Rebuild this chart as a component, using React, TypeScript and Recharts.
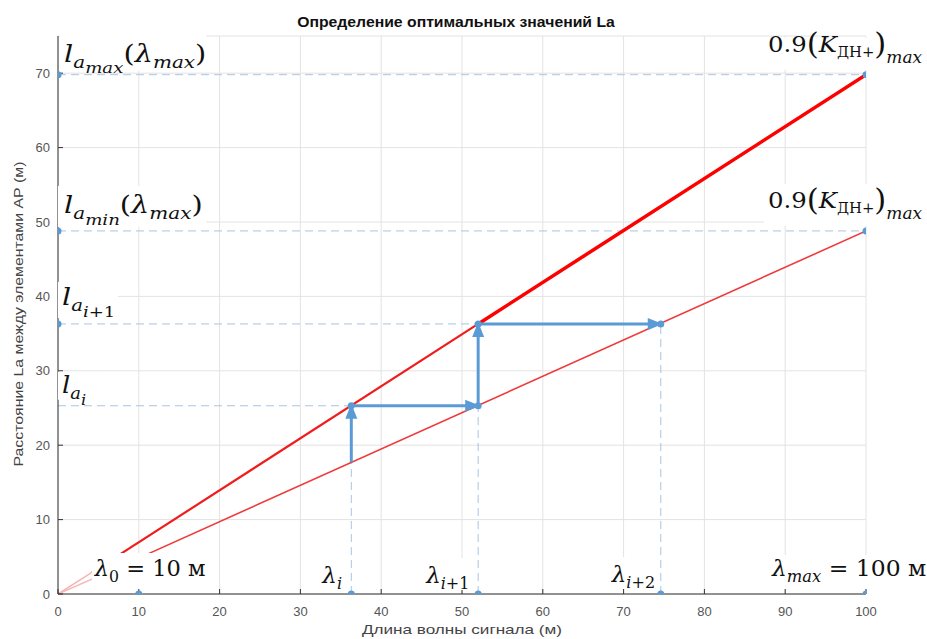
import React from 'react'
import {
  ComposedChart,
  Line,
  Scatter,
  XAxis,
  YAxis,
  CartesianGrid,
  ReferenceDot,
} from 'recharts'

// значения
const xTicks = [0, 10, 20, 30, 40, 50, 60, 70, 80, 90, 100]
const yTicks = [0, 10, 20, 30, 40, 50, 60, 70]

const lambda0 = 10
const lambdaMax = 100
const lambdaSteps = [36.3, 52, 74.6] // λi, λi+1, λi+2
const laMax = 69.8 // la_max(λmax)
const laMin = 48.8 // la_min(λmax)
const laSteps = [25.3, 36.3] // la_i, la_i+1
const laLowAtLambdaI = 17.7 // нижняя прямая при λi

// верхняя прямая 0.9(Kдн+)max
const upperFaint = [{ x: 0, y: 0 }, { x: 4.2, y: 2.9 }]
const upperThin = [{ x: 4.2, y: 2.9 }, { x: 52, y: 36.3 }]
const upperThick = [{ x: 52, y: 36.3 }, { x: 100, y: 69.8 }]
// нижняя прямая
const lowerFaint = [{ x: 0, y: 0 }, { x: 4.2, y: 2.0 }]
const lowerLine = [{ x: 4.2, y: 2.0 }, { x: 100, y: 48.8 }]

// ступенчатые стрелки
const arrows = [
  [{ x: lambdaSteps[0], y: laLowAtLambdaI }, { x: lambdaSteps[0], y: laSteps[0], head: 'up' }],
  [{ x: lambdaSteps[0], y: laSteps[0] }, { x: lambdaSteps[1], y: laSteps[0], head: 'right' }],
  [{ x: lambdaSteps[1], y: laSteps[0] }, { x: lambdaSteps[1], y: laSteps[1], head: 'up' }],
  [{ x: lambdaSteps[1], y: laSteps[1] }, { x: lambdaSteps[2], y: laSteps[1], head: 'right' }],
]

// пунктирные выноски
const guides = [
  [{ x: 0, y: laMax }, { x: lambdaMax, y: laMax }],
  [{ x: 0, y: laMin }, { x: lambdaMax, y: laMin }],
  [{ x: 0, y: laSteps[1] }, { x: lambdaSteps[1], y: laSteps[1] }],
  [{ x: 0, y: laSteps[0] }, { x: lambdaSteps[0], y: laSteps[0] }],
  [{ x: lambdaSteps[0], y: 0 }, { x: lambdaSteps[0], y: laLowAtLambdaI }],
  [{ x: lambdaSteps[1], y: 0 }, { x: lambdaSteps[1], y: laSteps[0] }],
  [{ x: lambdaSteps[2], y: 0 }, { x: lambdaSteps[2], y: laSteps[1] }],
]

const markers = [
  { x: 0, y: laMax }, { x: lambdaMax, y: laMax },
  { x: 0, y: laMin }, { x: lambdaMax, y: laMin },
  { x: 0, y: laSteps[1] }, { x: lambdaSteps[1], y: laSteps[1] }, { x: lambdaSteps[2], y: laSteps[1] },
  { x: lambdaSteps[0], y: laSteps[0] }, { x: lambdaSteps[1], y: laSteps[0] },
  { x: lambda0, y: 0 }, { x: lambdaSteps[0], y: 0 }, { x: lambdaSteps[1], y: 0 },
  { x: lambdaSteps[2], y: 0 }, { x: lambdaMax, y: 0 },
]

const SANS = '"Liberation Sans", Arial, Helvetica, sans-serif'
const SERIF = '"DejaVu Serif", "Liberation Serif", serif'
const BLUE = '#5b9bd5'
const GUIDE = '#a9c5e2'

type Part = { t: string; it?: boolean; size: number; off: number }
const m = (t: string, it = false): Part => ({ t, it, size: 23, off: 0 })
const s = (t: string, it = true): Part => ({ t, it, size: 16, off: 6 })
const s2 = (t: string, it = true): Part => ({ t, it, size: 14.5, off: 11 })
const kdn: Part[] = [
  m('0.9'),
  { t: '(', size: 29, off: 2 },
  m('K', true),
  { t: 'ДН+', size: 14, off: 5 },
  { t: ')', size: 29, off: 2 },
  { t: 'max', it: true, size: 16, off: 11 },
]

type MathLabel = {
  at: { x: number; y: number }
  dx: number
  dy: number
  sx: number
  k?: number
  bg?: [number, number, number, number]
  parts: Part[]
}

const mathLabels: MathLabel[] = [
  { at: { x: 0, y: laMax }, dx: 6, dy: -13, sx: 1.17, k: 1.07, bg: [-4, -28, 142, 9],
    parts: [m('l', true), s('a'), s2('max'), m('('), m('λ', true), s('max'), m(')')] },
  { at: { x: lambdaMax, y: laMax }, dx: -98, dy: -23, sx: 1.06, bg: [-4, -14, 159, 18], parts: kdn },
  { at: { x: 0, y: laMin }, dx: 6, dy: -18, sx: 1.17, k: 1.07, bg: [-6, -27, 142, 14],
    parts: [m('l', true), s('a'), s2('min'), m('('), m('λ', true), s('max'), m(')')] },
  { at: { x: lambdaMax, y: laMin }, dx: -98, dy: -23, sx: 1.06, bg: [-4, -24, 159, 18], parts: kdn },
  { at: { x: 0, y: laSteps[1] }, dx: 4, dy: -19, sx: 1.16, k: 1.07, bg: [-4, -23, 56, 13],
    parts: [m('l', true), s('a'), s2('i'), s2('+1', false)] },
  { at: { x: 0, y: laSteps[0] }, dx: 4, dy: -13, sx: 1.05, k: 1.07, bg: [-4, -21, 38, 7],
    parts: [m('l', true), s('a'), s2('i')] },
  { at: { x: lambda0, y: 0 }, dx: -44, dy: -18, sx: 0.98, bg: [-3, -23, 123, 13],
    parts: [m('λ', true), s('0', false), m(' = 10 м')] },
  { at: { x: lambdaSteps[0], y: 0 }, dx: -29, dy: -11, sx: 1.0,
    parts: [m('λ', true), s('i')] },
  { at: { x: lambdaSteps[1], y: 0 }, dx: -52, dy: -11, sx: 1.0, bg: [-2, -25, 50, 7],
    parts: [m('λ', true), s('i'), s('+1', false)] },
  { at: { x: lambdaSteps[2], y: 0 }, dx: -49, dy: -12, sx: 1.0, bg: [-2, -25, 47, 7],
    parts: [m('λ', true), s('i'), s('+2', false)] },
  { at: { x: lambdaMax, y: 0 }, dx: -94, dy: -18, sx: 1.02, bg: [-4, -21, 155, 13],
    parts: [m('λ', true), s('max'), m(' = 100 м')] },
]

function MathText({ parts }: { parts: Part[] }) {
  let prev = 0
  return (
    <text x={0} y={0} fontFamily={SERIF} fill="#111">
      {parts.map((p, i) => {
        const dy = p.off - prev
        prev = p.off
        return (
          <tspan key={i} dy={dy} fontSize={p.size} fontStyle={p.it ? 'italic' : 'normal'}>
            {p.t}
          </tspan>
        )
      })}
    </text>
  )
}

function renderMathLabel(spec: MathLabel) {
  return (props: any) => {
    const x = props.cx + spec.dx
    const y = props.cy + spec.dy
    const bg = spec.bg
    const k = spec.k ?? 1
    return (
      <g transform={`translate(${x},${y})`}>
        {bg && <rect x={bg[0]} y={bg[1]} width={bg[2] - bg[0]} height={bg[3] - bg[1]} fill="#fff" />}
        <g transform={`scale(${spec.sx * k},${k})`}>
          <MathText parts={spec.parts} />
        </g>
      </g>
    )
  }
}

const arrowHead = (props: any) => {
  const { cx, cy, payload, index } = props
  if (!payload || !payload.head) return <g key={index} />
  const L = 15
  const h = 6
  const pts =
    payload.head === 'up'
      ? `${cx},${cy - 2} ${cx - h},${cy + L - 2} ${cx + h},${cy + L - 2}`
      : `${cx + 2},${cy} ${cx - L + 2},${cy - h} ${cx - L + 2},${cy + h}`
  return <polygon key={index} points={pts} fill={BLUE} />
}

export default function App() {
  return (
    <div style={{ position: 'absolute', left: 0, top: 0, width: 927, height: 639, background: '#fff' }}>
      <div style={{
        position: 'absolute',
        left: 456,
        top: 14,
        transform: 'translateX(-50%) scaleX(1.05)',
        fontFamily: SANS,
        fontWeight: 700,
        fontSize: 15,
        lineHeight: '15px',
        whiteSpace: 'nowrap',
        color: '#111',
      }}>
        Определение оптимальных значений La
      </div>
      <ComposedChart width={927} height={639} margin={{ top: 36, right: 61, bottom: 0, left: 0 }}>
        <CartesianGrid stroke="#e3e3e3" />
        <XAxis
          type="number"
          dataKey="x"
          domain={[0, 100]}
          ticks={xTicks}
          allowDataOverflow
          height={45}
          stroke="#333"
          tickSize={-5}
          tickMargin={18}
          tick={{ fontSize: 13, fill: '#555', fontFamily: SANS }}
          label={{
            content: (p: any) => (
              <text
                x={p.viewBox.x + p.viewBox.width / 2}
                y={634}
                textAnchor="middle"
                fontFamily={SANS}
                fontSize={13}
                fill="#444"
                textLength={200}
                lengthAdjust="spacingAndGlyphs"
              >
                Длина волны сигнала (м)
              </text>
            ),
          }}
        />
        <YAxis
          type="number"
          dataKey="y"
          domain={[0, 75]}
          ticks={yTicks}
          allowDataOverflow
          width={58}
          stroke="#333"
          tickSize={-5}
          tickMargin={13}
          tick={{ fontSize: 13, fill: '#555', fontFamily: SANS }}
          label={{
            content: () => (
              <text
                transform="translate(23,314) rotate(-90)"
                textAnchor="middle"
                fontFamily={SANS}
                fontSize={13}
                fill="#444"
                textLength={305}
                lengthAdjust="spacingAndGlyphs"
              >
                Расстояние La между элементами АР (м)
              </text>
            ),
          }}
        />

        {guides.map((g, i) => (
          <Line key={'g' + i} data={g} dataKey="y" stroke={GUIDE} strokeWidth={1}
            strokeDasharray="8 5" dot={false} activeDot={false} isAnimationActive={false} />
        ))}

        <Line data={upperFaint} dataKey="y" stroke="#f7b5b5" strokeWidth={1.5} dot={false} activeDot={false} isAnimationActive={false} />
        <Line data={lowerFaint} dataKey="y" stroke="#f7b5b5" strokeWidth={1.5} dot={false} activeDot={false} isAnimationActive={false} />
        <Line data={lowerLine} dataKey="y" stroke="#ef3b3b" strokeWidth={1.6} dot={false} activeDot={false} isAnimationActive={false} />
        <Line data={upperThin} dataKey="y" stroke="#f01c1c" strokeWidth={2.2} dot={false} activeDot={false} isAnimationActive={false} />
        <Line data={upperThick} dataKey="y" stroke="#ff0000" strokeWidth={3.5} dot={false} activeDot={false} isAnimationActive={false} />

        {mathLabels.map((l, i) => (
          <ReferenceDot key={'m' + i} x={l.at.x} y={l.at.y} r={1} ifOverflow="visible" shape={renderMathLabel(l)} />
        ))}

        {arrows.map((a, i) => (
          <Line key={'a' + i} data={a} dataKey="y" stroke={BLUE} strokeWidth={3}
            dot={arrowHead} activeDot={false} isAnimationActive={false} />
        ))}

        <Scatter
          data={markers}
          isAnimationActive={false}
          shape={(p: any) => <circle cx={p.cx} cy={p.cy} r={3.5} fill={BLUE} />}
        />
      </ComposedChart>
    </div>
  )
}
